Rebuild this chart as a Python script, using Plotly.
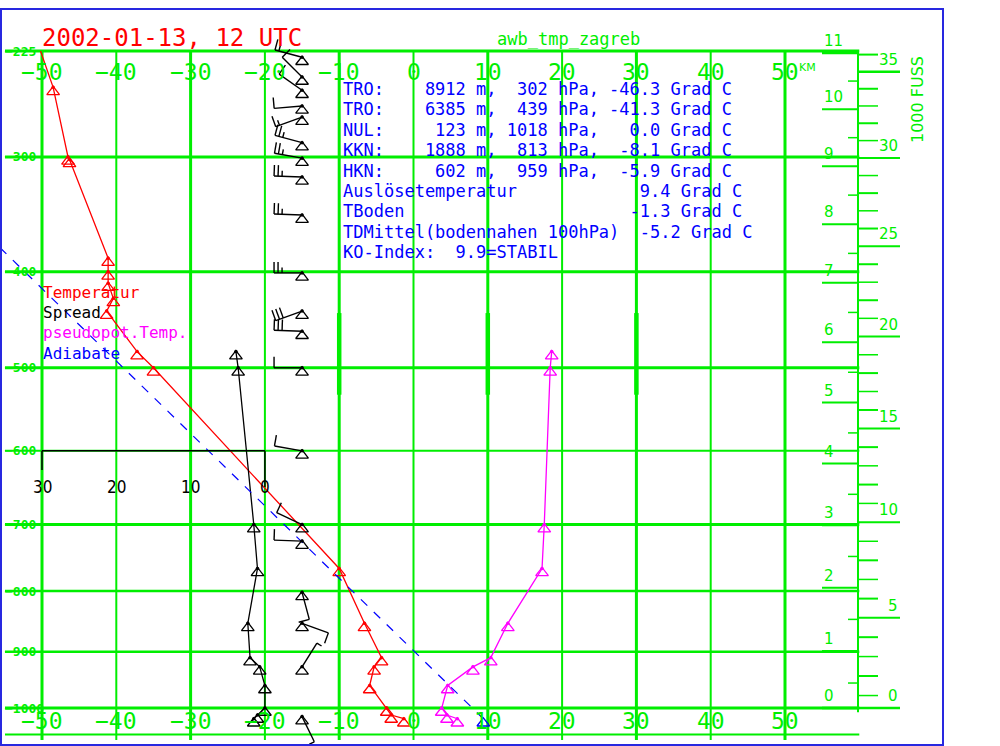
import math
import plotly.graph_objects as go

# --- SOUNDING VALUES ---
temp_p = [225, 249, 300, 302, 387, 400, 411, 426, 439, 482, 500, 765, 852, 910, 926, 959, 1000, 1013, 1020]
temp_t = [-50.2, -48.5, -46.5, -46.3, -41.1, -41.1, -41.1, -40.4, -41.3, -37.2, -35.0, -10.0,
          -6.6, -4.3, -5.3, -5.9, -3.6, -3.0, -1.3]

spread_p = [482, 500, 700, 765, 852, 910, 926, 959, 1000, 1013, 1020]
spread_k = [3.9, 3.6, 1.5, 1.0, 2.3, 2.0, 0.7, 0.0, 0.0, 1.0, 1.5]

theta_p = [482, 500, 700, 765, 852, 910, 926, 959, 1000, 1013, 1020]
theta_t = [18.6, 18.4, 17.6, 17.3, 12.7, 10.4, 8.0, 4.6, 3.8, 4.5, 5.9]

adiab_p = [1020, 349]
adiab_t = [9.4, -60.0]

wind_p = [229, 242, 251, 262, 270, 289, 301, 316, 348, 401, 439, 460, 500, 600, 700, 724, 802, 852, 926, 1016]
wind_dir = [285, 315, 305, 265, 250, 285, 280, 272, 272, 270, 250, 272, 270, 280, 295, 272, 165, 110, 32, 154]
wind_kt = [15, 10, 10, 10, 15, 25, 25, 25, 25, 25, 30, 30, 10, 10, 10, 10, 10, 10, 5, 5]

temp_ticks = [-50, -40, -30, -20, -10, 0, 10, 20, 30, 40, 50]
p_ticks = [225, 300, 400, 500, 600, 700, 800, 900, 1000]
spread_ticks = [30, 20, 10, 0]
km_ticks = list(range(12))
kft_ticks = list(range(37))
kft_labels = [0, 5, 10, 15, 20, 25, 30, 35]

info_lines = [
    "TRO:    8912 m,  302 hPa, -46.3 Grad C",
    "TRO:    6385 m,  439 hPa, -41.3 Grad C",
    "NUL:     123 m, 1018 hPa,   0.0 Grad C",
    "KKN:    1888 m,  813 hPa,  -8.1 Grad C",
    "HKN:     602 m,  959 hPa,  -5.9 Grad C",
    "Auslösetemperatur            9.4 Grad C",
    "TBoden                      -1.3 Grad C",
    "TDMittel(bodennahen 100hPa)  -5.2 Grad C",
    "KO-Index:  9.9=STABIL",
]
legend_names = ["Temperatur", "Spread", "pseudopot.Temp.", "Adiabate"]

RED, BLK, MAG, BLU = "#ff0000", "#000000", "#ff00ff", "#0000ff"
GRN = "#00ee00"
legend_colors = [RED, BLK, MAG, BLU]
MONO = "DejaVu Sans Mono"
SANS = "DejaVu Sans"

# --- SCALES: x in deg C, y in p**0.286 (Stueve) ---
K = 0.286
def yv(p):
    return p ** K

V225, V1000 = yv(225), yv(1000)
PXV = (708 - 51) / (V1000 - V225)
PXT = (785 - 42) / 100.0

def px_t(px):
    return -50 + (px - 42) / PXT

def py_v(py):
    return V225 + (py - 51) / PXV

def t_px(t):
    return 42 + (t + 50) * PXT

def v_py(v):
    return 51 + (v - V225) * PXV

def isa_p(h_m):
    return min(1000.0, 1013.25 * (1 - 2.25577e-5 * h_m) ** 5.25588)

TRI = 4.5 / PXV  # marker drop so the apex sits on the point

fig = go.Figure()

def profile(xs, ps, color, dash=None, markers=True, skip_first=False, width=1.3):
    ys = [yv(p) for p in ps]
    fig.add_trace(go.Scatter(x=xs, y=ys, mode="lines", line=dict(color=color, width=width, dash=dash),
                             hoverinfo="skip", showlegend=False))
    if markers:
        mx, my = (xs[1:], ys[1:]) if skip_first else (xs, ys)
        fig.add_trace(go.Scatter(x=mx, y=[v + TRI for v in my], mode="markers",
                                 marker=dict(symbol="triangle-up-open", size=11, color=color,
                                             line=dict(width=1.3, color=color)),
                                 hoverinfo="skip", showlegend=False))
        fig.add_trace(go.Scatter(x=mx, y=my, mode="markers", marker=dict(size=3.5, color=color),
                                 hoverinfo="skip", showlegend=False))

profile(temp_t, temp_p, RED, skip_first=True)
profile([-20 - s for s in spread_k], spread_p, BLK)
profile(theta_t, theta_p, MAG)
profile(adiab_t, adiab_p, BLU, dash="dash", markers=False, width=1.2)
fig.add_trace(go.Scatter(x=adiab_t[:1], y=[yv(adiab_p[0]) + TRI], mode="markers",
                         marker=dict(symbol="triangle-up-open", size=11, color=BLU, line=dict(width=1.3, color=BLU)),
                         hoverinfo="skip", showlegend=False))

# --- WIND BARBS ---
WIND_T = -15
SHAFT, GAP, FEATHER = 28, 4, 11
bx_all, by_all = [], []
for p, d, s in zip(wind_p, wind_dir, wind_kt):
    bx, by = t_px(WIND_T), v_py(yv(p))
    ux, uy = math.sin(math.radians(d)), -math.cos(math.radians(d))
    fx, fy = -uy, ux
    tx, ty = bx + SHAFT * ux, by + SHAFT * uy
    bx_all += [bx, tx, None]
    by_all += [by, ty, None]
    k = 0
    for i in range(s // 10):
        sx, sy = tx - k * GAP * ux, ty - k * GAP * uy
        bx_all += [sx, sx + FEATHER * fx, None]
        by_all += [sy, sy + FEATHER * fy, None]
        k += 1
    if s % 10 >= 5:
        sx, sy = tx - k * GAP * ux, ty - k * GAP * uy
        bx_all += [sx, sx + FEATHER / 2 * fx, None]
        by_all += [sy, sy + FEATHER / 2 * fy, None]

fig.add_trace(go.Scatter(x=[px_t(x) if x is not None else None for x in bx_all],
                         y=[py_v(y) if y is not None else None for y in by_all],
                         mode="lines", line=dict(color=BLK, width=1.4), hoverinfo="skip", showlegend=False))
wy = [yv(p) for p in wind_p]
fig.add_trace(go.Scatter(x=[WIND_T] * len(wind_p), y=[v + TRI for v in wy], mode="markers",
                         marker=dict(symbol="triangle-up-open", size=11, color=BLK, line=dict(width=1.3, color=BLK)),
                         hoverinfo="skip", showlegend=False))
fig.add_trace(go.Scatter(x=[WIND_T] * len(wind_p), y=wy, mode="markers", marker=dict(size=3.5, color=BLK),
                         hoverinfo="skip", showlegend=False))

# --- GRID (shapes) ---
shapes = []
def seg(x0, y0, x1, y1, color=GRN, width=2, layer="below"):
    shapes.append(dict(type="line", xref="x", yref="y", x0=x0, y0=y0, x1=x1, y1=y1,
                       line=dict(color=color, width=width), layer=layer))

for t in temp_ticks:
    seg(t, yv(225), t, py_v(740), width=3 if (t // 10) % 2 else 2)
for t in [-10, 10, 30]:
    seg(t, yv(441), t, yv(531), width=4.5)
for p in p_ticks + [1050]:
    w = 3 if p in (225, 300, 400, 500, 700, 1000) else 2.5
    if p in (600, 1050):
        w = 2
    seg(px_t(5), yv(p), 60, yv(p), width=w)

# right height scale
seg(px_t(858), yv(225), px_t(858), yv(1008), width=2)
for km in km_ticks:
    y = yv(isa_p(km * 1000))
    seg(px_t(822), y, px_t(858), y, width=2.5 if km in (0, 11) else 2)
for km in range(11):
    y = yv(isa_p(km * 1000 + 500))
    seg(px_t(848), y, px_t(858), y, width=1.5)
for f in kft_ticks:
    y = yv(isa_p(f * 304.8))
    if f in kft_labels:
        seg(px_t(858), y, px_t(900), y, width=2.5 if f in (0, 35) else 2)
    else:
        seg(px_t(858), y, px_t(878), y, width=2 if f % 2 == 0 else 1.5)

# spread sub-axis
seg(-50, yv(600), -20, yv(600), color=BLK, width=1.5, layer="above")
seg(-50, yv(600), -50, py_v(470), color=BLK, width=1.5, layer="above")
seg(-20, yv(600), -20, py_v(487), color=BLK, width=1.5, layer="above")

# --- TEXT ---
anns = []
def txt(text, px, py, size, color, xa="center", ya="middle", family=MONO, angle=0):
    anns.append(dict(text=text.replace(" ", "\u00a0"), x=px_t(px), y=py_v(py), xref="x", yref="y",
                     showarrow=False, xanchor=xa, yanchor=ya, textangle=angle,
                     font=dict(family=family, size=size, color=color)))

txt("2002-01-13, 12 UTC", 40, 38, 24, RED, xa="left")
txt("awb_tmp_zagreb", 568, 39, 17, GRN)
for t in temp_ticks:
    lab = str(t).replace("-", "\u2212")
    txt(lab, t_px(t), 72, 23, GRN)
    txt(lab, t_px(t), 721, 23, GRN)
txt("KM", 807, 67, 11, GRN, family=SANS)
for p in p_ticks:
    txt("<b>\u2212" + str(p) + "</b>", 3, v_py(yv(p)), 13, GRN, xa="left")
for s in spread_ticks:
    txt(str(s), t_px(-20 - s), 487, 17, BLK, family="Liberation Sans Narrow, DejaVu Sans Condensed, Liberation Sans")
for i, line in enumerate(info_lines):
    txt(line, 341, 89 + 20.4 * i, 17, BLU, xa="left")
for i, (name, col) in enumerate(zip(legend_names, legend_colors)):
    txt(name, 41, 292 + 20.4 * i, 16, col, xa="left")
for km in km_ticks:
    txt(str(km), 822, v_py(yv(isa_p(km * 1000))) - 1, 15, GRN, xa="left", ya="bottom", family=SANS)
for f in kft_labels:
    txt(str(f), 900, v_py(yv(isa_p(f * 304.8))) - 1, 15, GRN, xa="right", ya="bottom", family=SANS)
txt("1000 FUSS", 917, 100, 16, GRN, family=SANS, angle=-90)

fig.update_layout(
    width=1000, height=746,
    margin=dict(l=2, r=58, t=10, b=2),
    paper_bgcolor="white", plot_bgcolor="white",
    xaxis=dict(range=[px_t(2), px_t(942)], showgrid=False, zeroline=False, showticklabels=False,
               ticks="", showline=True, mirror=True, linecolor="#2828e0", linewidth=2, fixedrange=True),
    yaxis=dict(range=[py_v(744), py_v(10)], showgrid=False, zeroline=False, showticklabels=False,
               ticks="", showline=True, mirror=True, linecolor="#2828e0", linewidth=2, fixedrange=True),
    shapes=shapes, annotations=anns, showlegend=False,
)

# page margin off, so the plot sits at the window's corner
fig.write_html("out.html", config={"displayModeBar": False},
               post_script="document.body.style.margin='0';")
